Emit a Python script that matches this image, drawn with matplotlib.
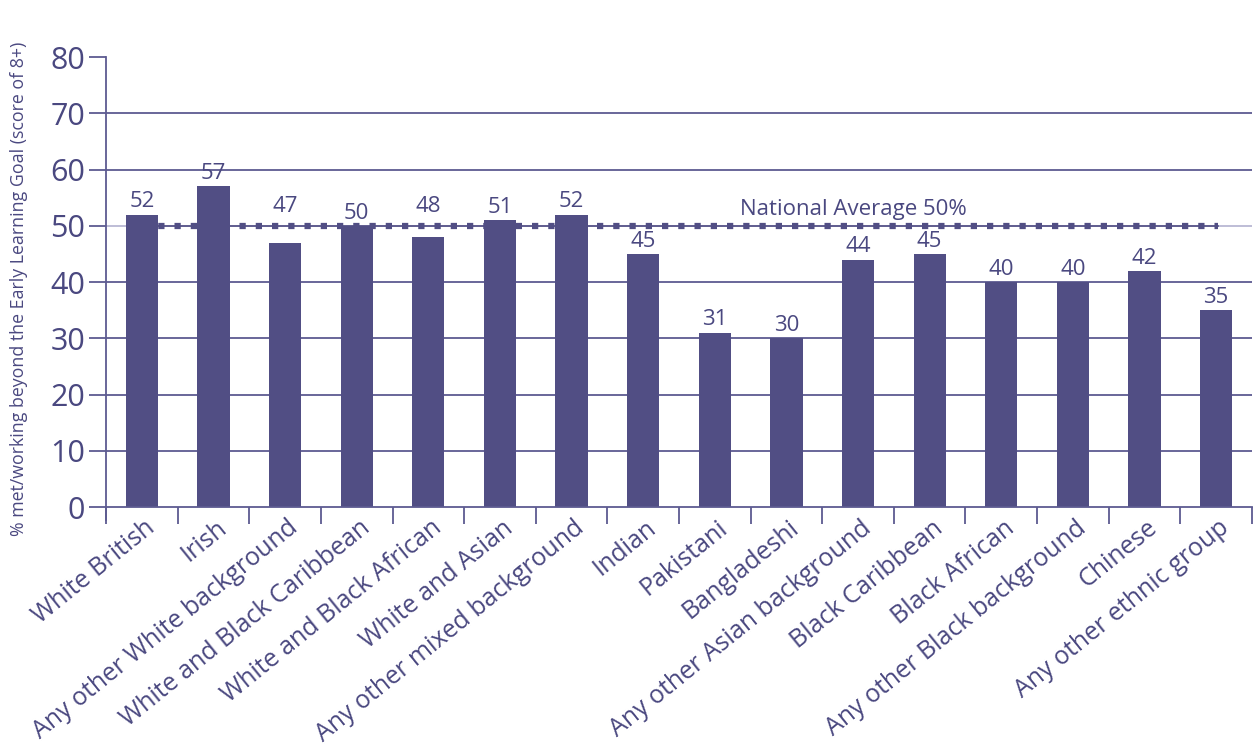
import numpy as np
import matplotlib.pyplot as plt

groups = ["White British", "Irish", "Any other White background",
          "White and Black Caribbean", "White and Black African",
          "White and Asian", "Any other mixed background", "Indian",
          "Pakistani", "Bangladeshi", "Any other Asian background",
          "Black Caribbean", "Black African", "Any other Black background",
          "Chinese", "Any other ethnic group"]
percent = [52, 57, 47, 50, 48, 51, 52, 45, 31, 30, 44, 45, 40, 40, 42, 35]
nationalAverage = 50
yTicks = [0, 10, 20, 30, 40, 50, 60, 70, 80]

purple = "#514e84"
textColor = "#4a4880"
gridColor = "#5d5b91"

plt.rcParams['font.family'] = ['Open Sans', 'DejaVu Sans']

fig = plt.figure(figsize=(12.58, 7.51), dpi=100)
ax = fig.add_axes([0.0843, 0.3249, 0.9109, 0.5992])

x = np.arange(len(groups))
ax.set_xlim(-0.5, len(groups) - 0.5)
ax.set_ylim(0, 80)

# gridlines, the one at the average is lighter
for y in yTicks[1:-1]:
    c = "#b9b8d3" if y == nationalAverage else gridColor
    ax.axhline(y, color=c, lw=1.3, zorder=1)

# national average dashed line, drawn behind the bars
ax.plot([0, 15.03], [nationalAverage] * 2, color=purple, lw=1.2, zorder=1.5)
ax.plot([0, 15.03], [nationalAverage] * 2, color=purple, lw=4.5,
        linestyle=(0, (1.0, 1.6)), zorder=1.5)
ax.text(9.93, nationalAverage + 1.0, "National Average 50%", ha='center', va='bottom',
        fontsize=16, color=textColor)

ax.bar(x, percent, width=0.45, color=purple, zorder=2)
for xi, v in zip(x, percent):
    # values just under the average line get lifted above it
    base = 51.2 if nationalAverage - 4 < v < nationalAverage else v
    ax.text(xi, base + 0.4, str(v), ha='center', va='bottom', fontsize=16, color=textColor, zorder=4)

ax.set_yticks(yTicks)
ax.set_yticklabels([str(t) for t in yTicks], fontsize=22, color=textColor)
ax.tick_params(axis='y', length=12, width=1.3, color=gridColor, pad=3, direction='out')

# category labels sit at bar centres, ticks go between categories
ax.set_xticks(np.arange(len(groups) + 1) - 0.5)
ax.set_xticklabels([])
ax.tick_params(axis='x', length=12, width=1.3, color=gridColor, direction='out')
for xi, name in zip(x, groups):
    ax.text(xi + 0.03, -1.5, name, rotation=39, ha='right', va='top',
            rotation_mode='anchor', fontsize=18, color=textColor)

for side in ['top', 'right']:
    ax.spines[side].set_visible(False)
ax.spines['left'].set_color(gridColor)
ax.spines['left'].set_linewidth(1.3)
ax.spines['left'].set_bounds(-2.3, 80)
ax.spines['bottom'].set_color(gridColor)
ax.spines['bottom'].set_linewidth(1.3)

fig.text(0.015, 0.615, "% met/working beyond the Early Learning Goal (score of 8+)",
         rotation=90, ha='center', va='center', fontsize=12.8, color=textColor)

fig.savefig("out.png", dpi=100)
